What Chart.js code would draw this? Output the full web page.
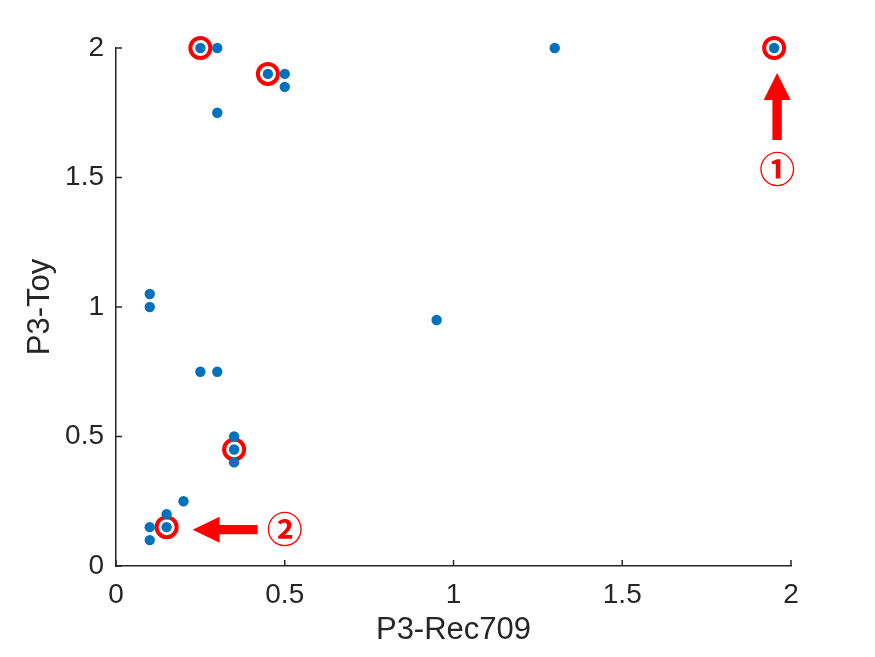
<!DOCTYPE html>
<html>
<head>
<meta charset="utf-8">
<title>P3-Toy vs P3-Rec709</title>
<script src="https://cdn.jsdelivr.net/npm/chart.js@4.4.0/dist/chart.umd.min.js"></script>
<style>
  html, body { margin: 0; padding: 0; background: #fff; }
  #wrap { width: 875px; height: 657px; position: relative; }
</style>
</head>
<body>
<div id="wrap"><canvas id="scatterChart"></canvas></div>
<script>
// Values
const rec709 = [0.25, 0.3, 0.45, 0.5, 0.5, 0.3, 1.3, 1.95, 0.1, 0.1, 0.95, 0.25, 0.3, 0.35, 0.35, 0.35, 0.2, 0.15, 0.15, 0.1, 0.1];
const toy    = [2, 2, 1.9, 1.9, 1.85, 1.75, 2, 2, 1.05, 1, 0.95, 0.75, 0.75, 0.5, 0.45, 0.4, 0.25, 0.2, 0.15, 0.15, 0.1];

// indices of the points ringed in red
const highlighted = [0, 2, 7, 14, 18];

const axisTicks = [0, 0.5, 1, 1.5, 2];
const tickLabels = ['0', '0.5', '1', '1.5', '2'];

// arrows pointing at a point, with their circled number
const callouts = [
    { point: 7, dir: 'up', label: '①' },
    { point: 18, dir: 'left', label: '②' }
];

const AXIS_COLOR = '#262626';
const RED = '#ff0000';
const FONT = 'Liberation Sans';

// MATLAB style ticks pointing into the plot
const innerTicks = {
    id: 'innerTicks',
    beforeDatasetsDraw(chart) {
        const { ctx, chartArea: a, scales: { x, y } } = chart;
        ctx.save();
        ctx.strokeStyle = AXIS_COLOR;
        ctx.lineWidth = 1.5;
        ctx.beginPath();
        axisTicks.forEach(v => {
            const px = x.getPixelForValue(v);
            ctx.moveTo(px, a.bottom);
            ctx.lineTo(px, a.bottom - 6);
            const py = y.getPixelForValue(v);
            ctx.moveTo(a.left, py);
            ctx.lineTo(a.left + 6, py);
        });
        ctx.stroke();
        ctx.restore();
    }
};

// red arrows + circled numbers
const calloutPlugin = {
    id: 'callouts',
    afterDatasetsDraw(chart) {
        const { ctx, scales: { x, y } } = chart;
        ctx.save();
        ctx.fillStyle = RED;
        ctx.font = 'bold 36px "Noto Sans CJK JP"';
        ctx.textAlign = 'center';
        ctx.textBaseline = 'middle';
        callouts.forEach(c => {
            const px = x.getPixelForValue(rec709[c.point]);
            const py = y.getPixelForValue(toy[c.point]);
            ctx.beginPath();
            if (c.dir === 'up') {
                const cx = px + 3;
                const tip = py + 25;
                ctx.moveTo(cx, tip);
                ctx.lineTo(cx + 13.5, tip + 27);
                ctx.lineTo(cx + 4.7, tip + 27);
                ctx.lineTo(cx + 4.7, tip + 67);
                ctx.lineTo(cx - 4.7, tip + 67);
                ctx.lineTo(cx - 4.7, tip + 27);
                ctx.lineTo(cx - 13.5, tip + 27);
                ctx.closePath();
                ctx.fill();
                ctx.fillText(c.label, cx, py + 121);
            } else {
                const cy = py + 2.5;
                const tip = px + 26;
                ctx.moveTo(tip, cy);
                ctx.lineTo(tip + 27, cy - 13);
                ctx.lineTo(tip + 27, cy - 4.6);
                ctx.lineTo(tip + 65, cy - 4.6);
                ctx.lineTo(tip + 65, cy + 4.6);
                ctx.lineTo(tip + 27, cy + 4.6);
                ctx.lineTo(tip + 27, cy + 13);
                ctx.closePath();
                ctx.fill();
                ctx.fillText(c.label, px + 118, cy);
            }
        });
        ctx.restore();
    }
};

const tickFont = { family: FONT, size: 28 };
const titleFont = { family: FONT, size: 31 };

new Chart(document.getElementById('scatterChart'), {
    type: 'scatter',
    data: {
        datasets: [{
            label: 'P3',
            data: rec709.map((v, i) => ({ x: v, y: toy[i] })),
            backgroundColor: '#0072BD',
            borderWidth: 0,
            pointRadius: 5.2,
            order: 0,
            clip: false
        }, {
            label: 'highlighted',
            data: highlighted.map(i => ({ x: rec709[i], y: toy[i] })),
            backgroundColor: '#ffffff',
            borderColor: RED,
            borderWidth: 4,
            pointRadius: 10,
            order: 1,
            clip: false
        }]
    },
    options: {
        responsive: true,
        maintainAspectRatio: false,
        animation: false,
        events: [],
        layout: { padding: { left: 0, top: 48, right: 84, bottom: 0 } },
        plugins: {
            legend: { display: false },
            tooltip: { enabled: false }
        },
        scales: {
            x: {
                type: 'linear',
                min: 0,
                max: 2,
                afterBuildTicks: s => { s.ticks = axisTicks.map(v => ({ value: v })); },
                afterFit: s => { s.height = 91; },
                grid: { display: false, drawTicks: false },
                border: { display: true, color: AXIS_COLOR, width: 1.5 },
                ticks: {
                    padding: 12,
                    color: AXIS_COLOR,
                    font: tickFont,
                    callback: (v, i) => tickLabels[i]
                },
                title: {
                    display: true,
                    text: 'P3-Rec709',
                    color: AXIS_COLOR,
                    font: titleFont,
                    padding: { top: 0, bottom: 8 }
                }
            },
            y: {
                type: 'linear',
                min: 0,
                max: 2,
                afterBuildTicks: s => { s.ticks = axisTicks.map(v => ({ value: v })); },
                afterFit: s => { s.width = 116; },
                grid: { display: false, drawTicks: false },
                border: { display: true, color: AXIS_COLOR, width: 1.5 },
                ticks: {
                    padding: 12,
                    color: AXIS_COLOR,
                    font: tickFont,
                    callback: (v, i) => tickLabels[i]
                },
                title: {
                    display: true,
                    text: 'P3-Toy',
                    color: AXIS_COLOR,
                    font: titleFont,
                    padding: { top: 22, bottom: 0 }
                }
            }
        }
    },
    plugins: [innerTicks, calloutPlugin]
});
</script>
</body>
</html>
